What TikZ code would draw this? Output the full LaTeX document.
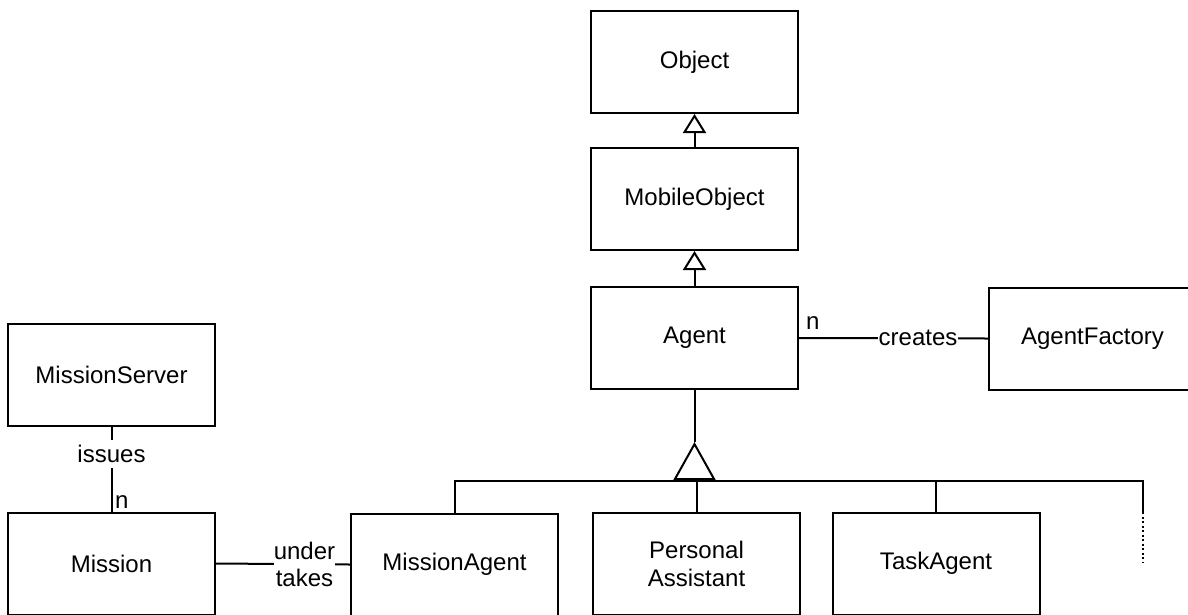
\documentclass[tikz,border=0pt]{standalone}
\usepackage{fontspec}
\setmainfont{Liberation Sans}
\usetikzlibrary{arrows.meta}
\begin{document}
\begin{tikzpicture}[x=1pt,y=-1pt,
  every node/.style={font=\fontsize{24}{28}\selectfont},
  classbox/.style={draw,line width=2pt,minimum width=207pt,minimum height=102pt,inner sep=0pt,align=center},
  link/.style={line width=2pt},
  inherit/.style={line width=2pt,-{Triangle[open,length=19pt,width=23pt]}},
  role/.style={fill=white,inner sep=3pt},
  mult/.style={inner sep=0pt}
]
\useasboundingbox (0,0) rectangle (1188,614);
\clip (0,0) rectangle (1188,614);

% classes
\node[classbox] (obj)     at (694.5,62)    {Object};
\node[classbox] (mob)     at (694.5,199)   {MobileObject};
\node[classbox] (agent)   at (694.5,338)   {Agent};
\node[classbox] (af)      at (1092.5,338.5){AgentFactory};
\node[classbox] (ms)      at (111.5,374.5) {MissionServer};
\node[classbox] (mission) at (111.5,563.5) {Mission};
\node[classbox] (ma)      at (454.5,564.5) {MissionAgent};
\node[classbox] (pa)      at (696.5,563.5) {Personal\\Assistant};
\node[classbox] (ta)      at (936,563.5)   {TaskAgent};

% inheritance chain
\draw[inherit] (mob.north) -- (obj.south);
\draw[inherit] (agent.north) -- (mob.south);

% agent specialisations share one generalisation triangle
\coordinate (apex) at (694.5,442);
\coordinate (fork) at (694.5,481);
\coordinate (more) at (1143,512);
\coordinate (moreEnd) at (1143,562);
\draw[link] (agent.south) -- (apex);
\draw[line width=2pt,-{Triangle[open,length=38pt,width=42pt]}] (fork) -- (apex);
\draw[link] (ma.north) |- (fork) -| (more);
\draw[link] (pa.north) -- (pa.north |- fork);
\draw[link] (ta.north) -- (ta.north |- fork);
\draw[line width=1.5pt,dash pattern=on 2pt off 2.5pt] (more) -- (moreEnd);

% associations
\draw[link] (agent.east) -- node[role,pos=0.63,inner sep=1pt] (creates) {creates} (af.west);
\node[mult,anchor=south west] (nAgent) at (806,330) {n};

\draw[link] (ms.south) -- node[role,pos=0.32,inner sep=5pt] (issues) {issues} (mission.north);
\node[mult,anchor=south west] (nMission) at (115,509) {n};

\draw[link] (mission.east) -- node[role,pos=0.66,inner sep=0pt,align=center,
  font=\fontsize{24}{27}\selectfont] (undertakes) {under\\takes} (ma.west);
\end{tikzpicture}
\end{document}
